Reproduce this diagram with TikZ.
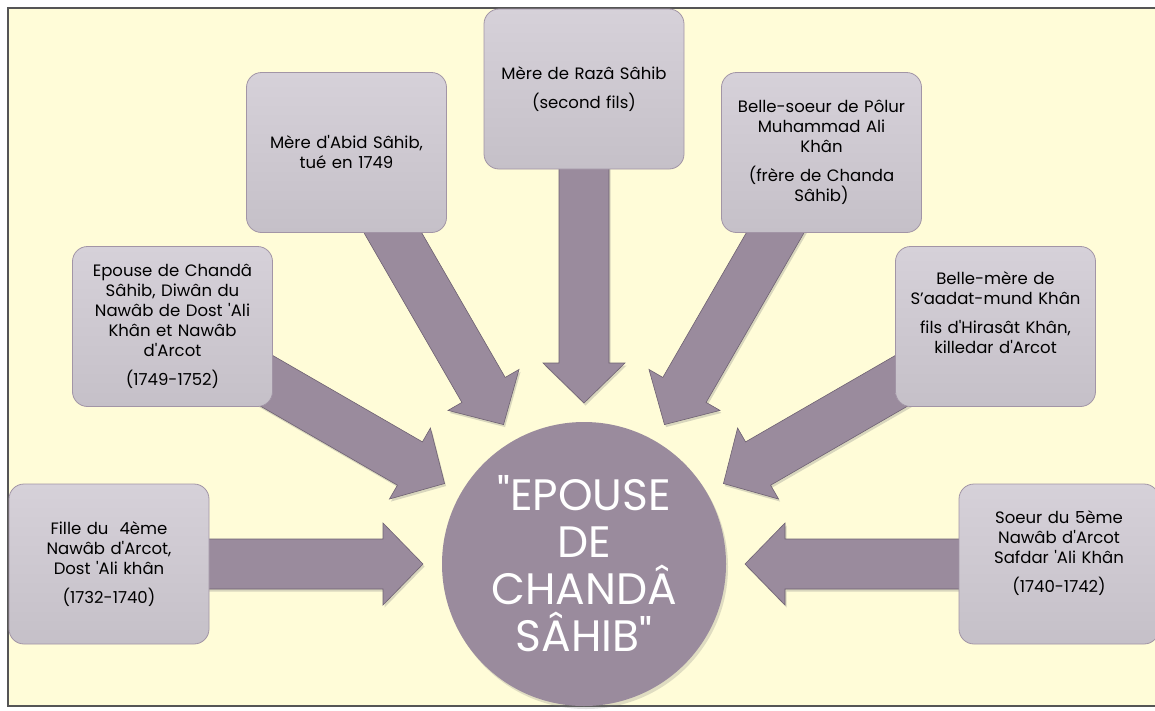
\documentclass[tikz,border=0pt]{standalone}
\usepackage{fontspec}
\setmainfont{Poppins}
\usetikzlibrary{calc,shadows}
\definecolor{paper}{HTML}{FFFCD8}
\definecolor{frameline}{HTML}{555555}
\definecolor{mauve}{HTML}{9A8B9D}
\definecolor{mauvedark}{HTML}{6E6172}
\definecolor{boxtop}{HTML}{D6D1D9}
\definecolor{boxbot}{HTML}{C5C0C8}
\definecolor{boxline}{HTML}{A295A6}
\pgfdeclarelayer{back}
\pgfsetlayers{back,main}
\newcommand{\ap}{\textquotesingle}
\tikzset{
  box/.style={rectangle, rounded corners=15pt, draw=boxline, line width=0.8pt,
    top color=boxtop, bottom color=boxbot, minimum width=200pt, minimum height=160pt,
    text width=200pt, align=center, inner sep=0pt, font=\fontsize{16.5}{20}\selectfont},
  hub/.style={circle, fill=mauve, minimum size=284pt, inner sep=0pt, text=white,
    align=center, font=\fontsize{44}{47}\selectfont,
    drop shadow={opacity=0.25, shadow xshift=2pt, shadow yshift=-3pt}},
  bigarrow/.style={fill=mauve, draw=mauvedark, line width=0.6pt, line join=miter,
    drop shadow={opacity=0.3, shadow xshift=1.5pt, shadow yshift=-2.5pt}}
}
% block arrow from a box to the hub
\newcommand{\toHub}[1]{%
  \coordinate (tip) at ($(ep.center)!161pt!(#1.center)$);
  \coordinate (hb) at ($(ep.center)!201pt!(#1.center)$);
  \draw[bigarrow] (tip) -- ($(hb)!41pt!90:(#1.center)$) -- ($(hb)!25pt!90:(#1.center)$)
    -- ($(#1.center)!25pt!-90:(hb)$) -- ($(#1.center)!25pt!90:(hb)$)
    -- ($(hb)!25pt!-90:(#1.center)$) -- ($(hb)!41pt!-90:(#1.center)$) -- cycle;
}
\begin{document}
\begin{tikzpicture}[x=1pt,y=-1pt]
  \useasboundingbox (0,0) rectangle (1155,710);
  \begin{pgfonlayer}{back}
    \fill[paper] (8,8) rectangle (1155,706);
    \draw[frameline, line width=1.6pt] (1155,8) -- (8,8) -- (8,706) -- (1155,706);
  \end{pgfonlayer}
  \node[hub] at (584,564) (ep) {\textquotedbl EPOUSE\\DE\\CHANDÂ\\SÂHIB\textquotedbl};
  \node[box] at (109,564) (fille) {Fille du~~4ème\\Nawâb d\ap Arcot,\\Dost \ap Ali khân\\[9pt](1732-1740)};
  \node[box] at (172.5,326.5) (epouse) {Epouse de Chandâ\\Sâhib, Diwân du\\Nawâb de Dost \ap Ali\\Khân et Nawâb\\d\ap Arcot\\[9pt](1749-1752)};
  \node[box] at (346.5,152.5) (abid) {Mère d\ap Abid Sâhib,\\tué en 1749};
  \node[box] at (584,89) (raza) {Mère de Razâ Sâhib\\[9pt](second fils)};
  \node[box] at (821.5,152.5) (polur) {Belle-soeur de Pôlur\\Muhammad Ali\\Khân\\[9pt](frère de Chanda\\Sâhib)};
  \node[box, text depth=97pt] at (995.5,326.5) (saadat) {Belle-mère de\\S’aadat-mund Khân\\[9pt]fils d\ap Hirasât Khân,\\killedar d\ap Arcot};
  \node[box, text depth=94pt] at (1059,564) (safdar) {Soeur du 5ème\\Nawâb d\ap Arcot\\Safdar \ap Ali Khân\\[9pt](1740-1742)};
  \begin{pgfonlayer}{back}
    \toHub{fille}
    \toHub{epouse}
    \toHub{abid}
    \toHub{raza}
    \toHub{polur}
    \toHub{saadat}
    \toHub{safdar}
  \end{pgfonlayer}
\end{tikzpicture}
\end{document}
